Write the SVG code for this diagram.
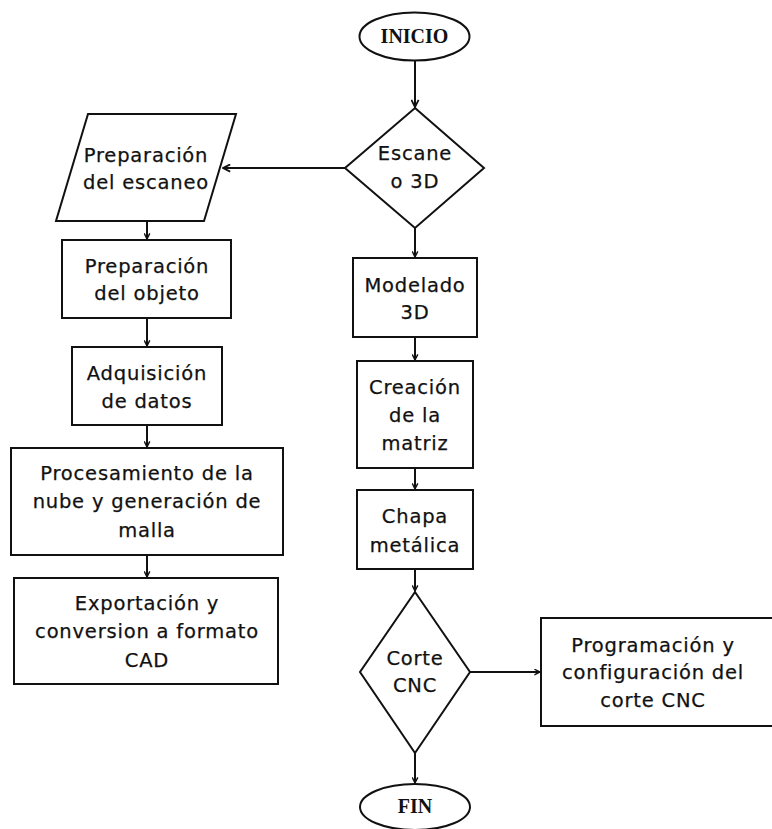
<svg xmlns="http://www.w3.org/2000/svg" width="772" height="829" viewBox="0 0 772 829">
<defs>
<style>
.s{fill:#fff;stroke:#111;stroke-width:2}
.t{font-family:"DejaVu Sans","Open Sans",sans-serif;font-size:19.5px;letter-spacing:0.8px;fill:#111;stroke:#111;stroke-width:0.25;text-anchor:middle}
.e{font-family:"Liberation Serif",serif;font-weight:bold;font-size:20px;fill:#111;text-anchor:middle}
.c{fill:none;stroke:#111;stroke-width:2}
</style>
<marker id="a" viewBox="0 0 10 10" refX="9" refY="5" markerWidth="7" markerHeight="7" orient="auto" markerUnits="userSpaceOnUse">
<path d="M1,1 L9,5 L1,9" fill="none" stroke="#111" stroke-width="2"/>
</marker>
<marker id="b" viewBox="0 0 10 10" refX="9" refY="5" markerWidth="9" markerHeight="9" orient="auto" markerUnits="userSpaceOnUse">
<path d="M1,1 L9,5 L1,9" fill="none" stroke="#111" stroke-width="2"/>
</marker>
</defs>
<rect width="772" height="829" fill="#fff"/>
<g id="connectors">
<path class="c" d="M415,61 V107" marker-end="url(#b)"/>
<path class="c" d="M345,168 H223" stroke-width="3" marker-end="url(#b)"/>
<path class="c" d="M147,221 V239" marker-end="url(#a)"/>
<path class="c" d="M147,318 V346" marker-end="url(#a)"/>
<path class="c" d="M147,425 V447" marker-end="url(#a)"/>
<path class="c" d="M147,555 V577" marker-end="url(#a)"/>
<path class="c" d="M415,228 V257" marker-end="url(#a)"/>
<path class="c" d="M415,337 V360" marker-end="url(#a)"/>
<path class="c" d="M415,468 V489" marker-end="url(#a)"/>
<path class="c" d="M415,569 V591" marker-end="url(#a)"/>
<path class="c" d="M470,672 H540" marker-end="url(#a)"/>
<path class="c" d="M415,753 V783" marker-end="url(#a)"/>
</g>
<g id="inicio">
<ellipse class="s" cx="414.5" cy="36.5" rx="55" ry="24"/>
<text class="e" x="414.5" y="43">INICIO</text>
</g>
<g id="escaneo3d">
<polygon class="s" points="415,108 484,168 415,228 345,168"/>
<text class="t" x="415" y="160">Escane</text>
<text class="t" x="415" y="188">o 3D</text>
</g>
<g id="prep-escaneo">
<polygon class="s" points="88,114 236,114 204,221 56,221"/>
<text class="t" x="146" y="162">Preparación</text>
<text class="t" x="146" y="189">del escaneo</text>
</g>
<g id="prep-objeto">
<rect class="s" x="62" y="240" width="169" height="78"/>
<text class="t" x="147" y="273">Preparación</text>
<text class="t" x="147" y="300">del objeto</text>
</g>
<g id="adquisicion">
<rect class="s" x="72" y="347" width="150" height="78"/>
<text class="t" x="147" y="380">Adquisición</text>
<text class="t" x="147" y="408">de datos</text>
</g>
<g id="procesamiento">
<rect class="s" x="11" y="448" width="272" height="107"/>
<text class="t" x="147" y="480">Procesamiento de la</text>
<text class="t" x="147" y="508">nube y generación de</text>
<text class="t" x="147" y="537">malla</text>
</g>
<g id="exportacion">
<rect class="s" x="14" y="578" width="264" height="106"/>
<text class="t" x="147" y="610">Exportación y</text>
<text class="t" x="147" y="638">conversion a formato</text>
<text class="t" x="147" y="667">CAD</text>
</g>
<g id="modelado">
<rect class="s" x="353" y="258" width="124" height="79"/>
<text class="t" x="415" y="292">Modelado</text>
<text class="t" x="415" y="319">3D</text>
</g>
<g id="creacion">
<rect class="s" x="357" y="361" width="116" height="107"/>
<text class="t" x="415" y="394">Creación</text>
<text class="t" x="415" y="422">de la</text>
<text class="t" x="415" y="450">matriz</text>
</g>
<g id="chapa">
<rect class="s" x="357" y="490" width="116" height="79"/>
<text class="t" x="415" y="523">Chapa</text>
<text class="t" x="415" y="552">metálica</text>
</g>
<g id="corte">
<polygon class="s" points="415,592 470,672 415,753 360,672"/>
<text class="t" x="415" y="665">Corte</text>
<text class="t" x="415" y="692">CNC</text>
</g>
<g id="programacion">
<rect class="s" x="541" y="618" width="240" height="108"/>
<text class="t" x="653" y="652">Programación y</text>
<text class="t" x="653" y="679">configuración del</text>
<text class="t" x="653" y="707">corte CNC</text>
</g>
<g id="fin">
<ellipse class="s" cx="415" cy="807" rx="55" ry="23"/>
<text class="e" x="415" y="813">FIN</text>
</g>
</svg>
